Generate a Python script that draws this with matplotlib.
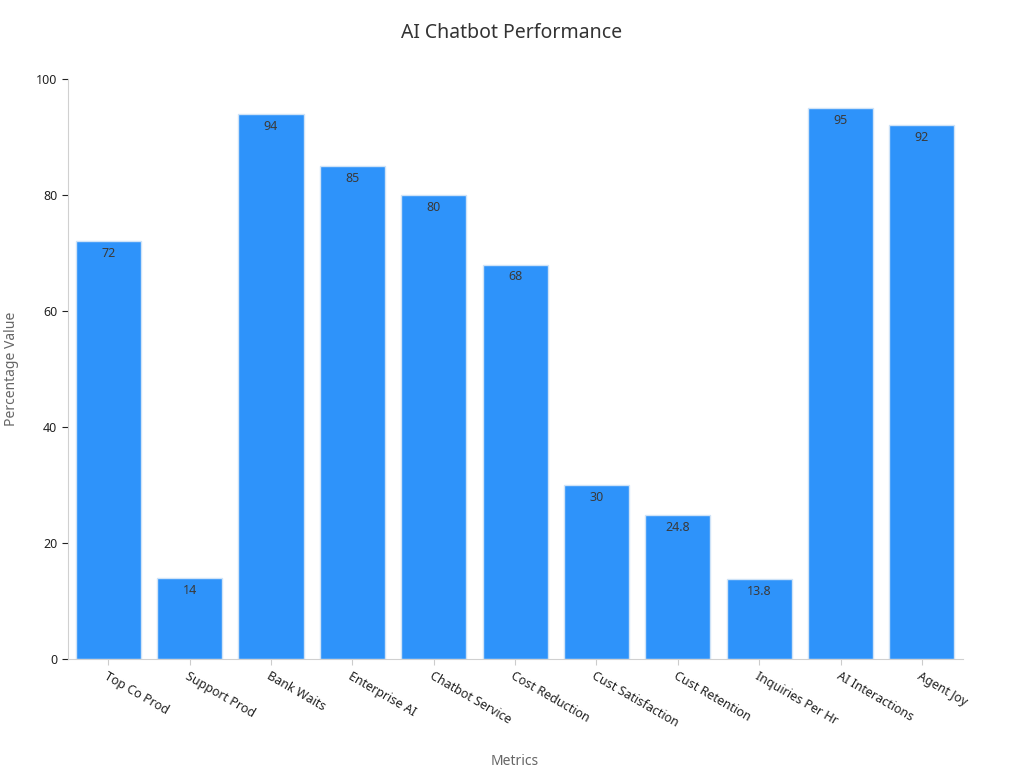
import matplotlib
matplotlib.use("Agg")
import matplotlib.pyplot as plt

plt.rcParams['font.family'] = ['Noto Sans', 'DejaVu Sans']

categories = ['Top Co Prod', 'Support Prod', 'Bank Waits', 'Enterprise AI',
              'Chatbot Service', 'Cost Reduction', 'Cust Satisfaction',
              'Cust Retention', 'Inquiries Per Hr', 'AI Interactions', 'Agent Joy']
values = [72, 14, 94, 85, 80, 68, 30, 24.8, 13.8, 95, 92]
yticks = [0, 20, 40, 60, 80, 100]

fig = plt.figure(figsize=(10.24, 7.68), dpi=100)
ax = fig.add_axes([0.066, 0.142, 0.874, 0.755])

x = range(len(categories))
bars = ax.bar(x, values, width=0.8, color='#2e93fa', edgecolor='#cfe3f7', linewidth=1)
for xi, v in zip(x, values):
    ax.text(xi, v - 1, f'{v:g}', ha='center', va='top', fontsize=9, color='#3a3a3a')

ax.set_xlim(-0.5, len(categories) - 0.5)
ax.set_ylim(0, 100)
ax.set_yticks(yticks)
ax.set_xticks(list(x))
ax.set_xticklabels(categories, rotation=-30, ha='left', rotation_mode='anchor', fontsize=9, color='#222222')
ax.tick_params(axis='y', labelsize=9, colors='#222222', length=4)
ax.tick_params(axis='x', length=4, color='#cccccc')
for s in ['top', 'right']:
    ax.spines[s].set_visible(False)
for s in ['left', 'bottom']:
    ax.spines[s].set_color('#d0d0d0')

ax.set_ylabel('Percentage Value', fontsize=10, color='#666666', labelpad=12)
ax.set_xlabel('Metrics', fontsize=10, color='#666666', labelpad=18)
fig.suptitle('AI Chatbot Performance', x=0.5, y=0.97, fontsize=14, color='#333333')

fig.savefig('out.png', dpi=100)
